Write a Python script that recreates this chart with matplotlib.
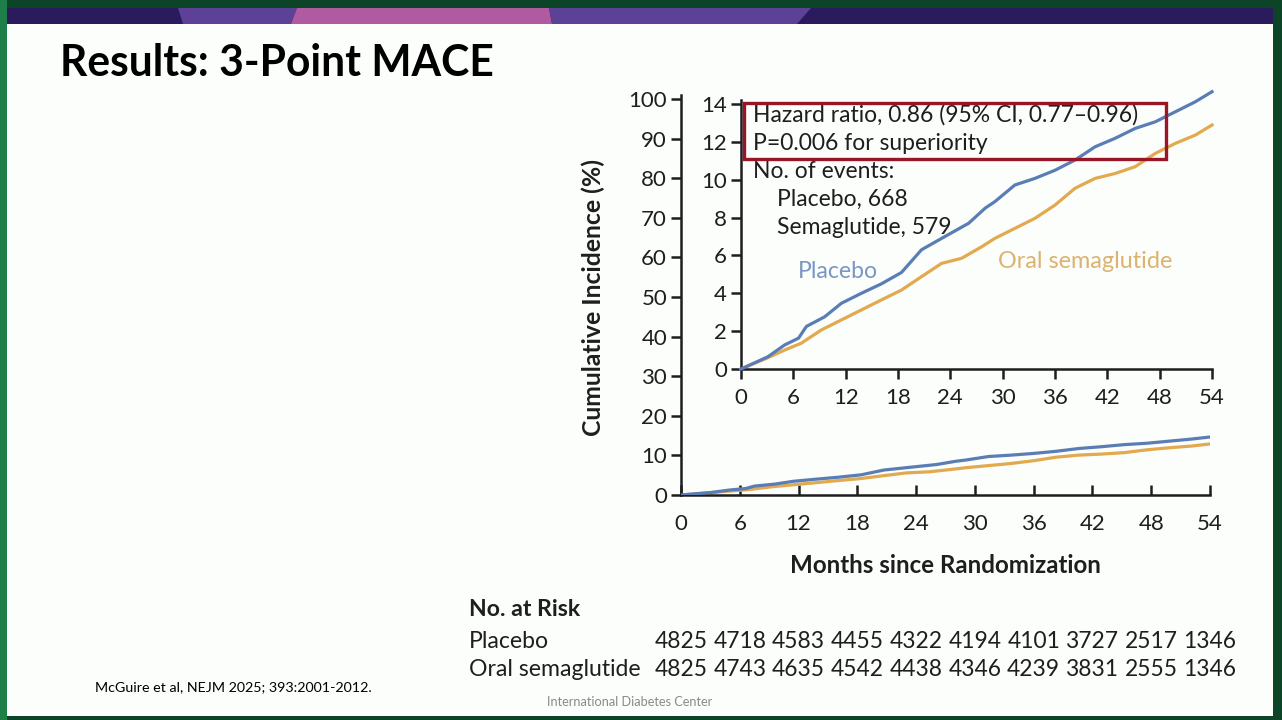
import matplotlib.pyplot as plt
from matplotlib.patches import Rectangle, Polygon
from matplotlib.transforms import blended_transform_factory

plt.rcParams['font.family'] = ['Lato', 'DejaVu Sans']

# Kaplan-Meier style curves (cumulative incidence, %)
placebo_months = [0, 3.1, 5.0, 6.6, 7.5, 9.6, 11.5, 13.8, 16.1, 18.4, 20.7, 23.0,
                  26.1, 28.0, 29.1, 31.4, 33.7, 36.0, 38.3, 40.6, 42.9, 45.2,
                  47.5, 49.8, 52.1, 54.0]
placebo_pct = [0, 0.65, 1.27, 1.63, 2.25, 2.76, 3.47, 4.0, 4.5, 5.1, 6.3, 6.9,
               7.7, 8.5, 8.84, 9.72, 10.07, 10.5, 11.04, 11.74, 12.19, 12.71,
               13.06, 13.59, 14.12, 14.65]
sema_months = [0, 3.1, 5.0, 6.9, 9.2, 11.5, 13.8, 16.1, 18.4, 20.7, 23.0, 25.3,
               27.6, 29.1, 31.4, 33.7, 36.0, 38.3, 40.6, 42.9, 45.2, 47.5,
               49.8, 52.1, 54.0]
sema_pct = [0, 0.6, 1.0, 1.36, 2.06, 2.59, 3.12, 3.65, 4.17, 4.88, 5.58, 5.85,
            6.46, 6.9, 7.43, 7.96, 8.66, 9.55, 10.07, 10.33, 10.69, 11.39,
            11.92, 12.36, 12.89]

risk_months = [0, 6, 12, 18, 24, 30, 36, 42, 48, 54]
risk_placebo = [4825, 4718, 4583, 4455, 4322, 4194, 4101, 3727, 2517, 1346]
risk_sema = [4825, 4743, 4635, 4542, 4438, 4346, 4239, 3831, 2555, 1346]

main_yticks = list(range(0, 101, 10))
inset_yticks = list(range(0, 15, 2))
x_ticks = list(range(0, 55, 6))

blue = '#5B7DB5'
orange = '#E3A94E'
blue_txt = '#7B96C4'
orange_txt = '#DDB26E'
ink = '#1E1E1E'

W, H = 1282, 720
fig = plt.figure(figsize=(12.82, 7.2), dpi=100)
fig.patch.set_facecolor('#0B4426')


def fx(px):
    return px / W


def fy(py):
    return 1 - py / H


# slide background and frame (kept behind the axes)
fig.add_artist(Rectangle((0, 0), fx(7), 1, transform=fig.transFigure,
                         facecolor='#1E8048', edgecolor='none', zorder=-10))
fig.add_artist(Rectangle((fx(7), fy(716)), fx(1266), fy(8) - fy(716),
                         transform=fig.transFigure, facecolor='#FBFEFB',
                         edgecolor='none', zorder=-10))

# banner at the top
fig.add_artist(Rectangle((fx(7), fy(24)), fx(1266), fy(8) - fy(24),
                         transform=fig.transFigure, facecolor='#2A1B5C',
                         edgecolor='none', zorder=-9))
bands = [((178, 297, 291, 183), '#5D4196'),
         ((297, 549, 552, 291), '#B05AA2'),
         ((549, 811, 797, 552), '#5D4196')]
for (xa, xb, xc, xd), col in bands:
    poly = Polygon([(fx(xa), fy(8)), (fx(xb), fy(8)), (fx(xc), fy(24)), (fx(xd), fy(24))],
                   closed=True, transform=fig.transFigure, facecolor=col,
                   edgecolor='none', zorder=-8)
    fig.add_artist(poly)

fig.text(fx(60), fy(63), 'Results: 3-Point MACE', fontsize=30.7, fontweight='bold',
         color='black', va='center', ha='left')

# main plot
ax = fig.add_axes([fx(681), fy(495), fx(1210) - fx(681), fy(99) - fy(495)])
ax.set_facecolor('none')
ax.plot(placebo_months, placebo_pct, color=blue, lw=2.3, zorder=3)
ax.plot(sema_months, sema_pct, color=orange, lw=2.3, zorder=2)
ax.set_xlim(0, 54)
ax.set_ylim(0, 100)
ax.set_xticks(x_ticks)
ax.set_yticks(main_yticks)
for s in ['top', 'right']:
    ax.spines[s].set_visible(False)
for s in ['left', 'bottom']:
    ax.spines[s].set_linewidth(1.8)
    ax.spines[s].set_color(ink)
ax.spines['left'].set_bounds(0, 101)
ax.tick_params(axis='x', direction='in', length=7, width=1.8, pad=14,
               labelsize=16, colors=ink)
ax.tick_params(axis='y', direction='out', length=7, width=1.8, pad=3,
               labelsize=16, colors=ink)
ax.set_ylabel('Cumulative Incidence (%)', fontsize=17.8, fontweight='bold',
              color=ink, labelpad=17)
ax.set_xlabel('Months since Randomization', fontsize=17.4, fontweight='bold',
              color=ink, labelpad=14)

# inset
ins = fig.add_axes([fx(741), fy(369), fx(1212) - fx(741), fy(104) - fy(369)])
ins.set_facecolor('none')
ins.plot(placebo_months, placebo_pct, color=blue, lw=2.3, zorder=3, clip_on=False)
ins.plot(sema_months, sema_pct, color=orange, lw=2.3, zorder=2, clip_on=False)
ins.set_xlim(0, 54)
ins.set_ylim(0, 14)
ins.set_xticks(x_ticks)
ins.set_yticks(inset_yticks)
for s in ['top', 'right']:
    ins.spines[s].set_visible(False)
for s in ['left', 'bottom']:
    ins.spines[s].set_linewidth(1.8)
    ins.spines[s].set_color(ink)
ins.spines['left'].set_bounds(0, 14.2)
ins.tick_params(axis='x', direction='out', length=7, width=1.8, pad=7,
                labelsize=16, colors=ink)
ins.tick_params(axis='y', direction='out', length=7, width=1.8, pad=3,
                labelsize=16, colors=ink)

# statistics box and text
fig.add_artist(Rectangle((fx(744), fy(159)), fx(1166) - fx(744), fy(103) - fy(159),
                         transform=fig.transFigure, facecolor='none',
                         edgecolor='#9A1626', lw=2.4, zorder=5))
stat_lines = [(753, 115, 'Hazard ratio, 0.86 (95% CI, 0.77\u20130.96)'),
              (753, 143, 'P=0.006 for superiority'),
              (753, 171, 'No. of events:'),
              (777, 199, 'Placebo, 668'),
              (777, 227, 'Semaglutide, 579')]
for px, py, txt in stat_lines:
    fig.text(fx(px), fy(py), txt, fontsize=16.5, color=ink, ha='left', va='center')

fig.text(fx(798), fy(272), 'Placebo', fontsize=16.6, color=blue_txt, ha='left', va='center')
fig.text(fx(998), fy(261), 'Oral semaglutide', fontsize=16.8, color=orange_txt,
         ha='left', va='center')

# number at risk table
tr = blended_transform_factory(ax.transData, fig.transFigure)
fig.text(fx(469), fy(610), 'No. at Risk', fontsize=16.6, fontweight='bold', color=ink,
         ha='left', va='center')
fig.text(fx(469), fy(641), 'Placebo', fontsize=16.6, color=ink, ha='left', va='center')
fig.text(fx(469), fy(669), 'Oral semaglutide', fontsize=16.6, color=ink, ha='left', va='center')
for m, a, b in zip(risk_months, risk_placebo, risk_sema):
    ax.text(m, fy(641), str(a), transform=tr, fontsize=16.4, color=ink, ha='center',
            va='center', clip_on=False)
    ax.text(m, fy(669), str(b), transform=tr, fontsize=16.4, color=ink, ha='center',
            va='center', clip_on=False)

fig.text(fx(95), fy(687), 'McGuire et al, NEJM 2025; 393:2001-2012.', fontsize=10.25,
         color='black', ha='left', va='center')
fig.text(fx(547), fy(702), 'International Diabetes Center', fontsize=9.2,
         color='#8A8A8A', ha='left', va='center')

fig.savefig('out.png', dpi=100, facecolor=fig.get_facecolor())
